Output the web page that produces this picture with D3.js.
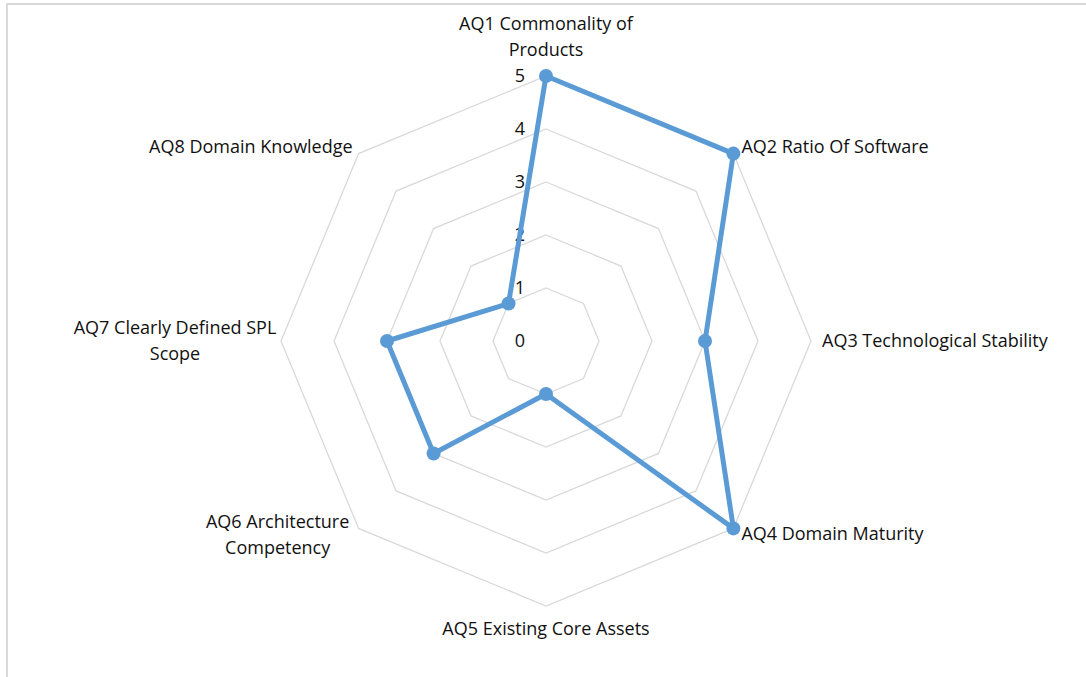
<!DOCTYPE html>
<html>
<head>
<meta charset="utf-8">
<script src="https://cdn.jsdelivr.net/npm/d3@7"></script>
<style>
  body { margin: 0; background: #fff; }
  svg { display: block; }
</style>
</head>
<body>
<div id="radar"></div>
<script>
// Categories (wrapped as in the original) and scores
const categories = [
    ["AQ1 Commonality of", "Products"],
    ["AQ2 Ratio Of Software"],
    ["AQ3 Technological Stability"],
    ["AQ4 Domain Maturity"],
    ["AQ5 Existing Core Assets"],
    ["AQ6 Architecture", "Competency"],
    ["AQ7 Clearly Defined SPL", "Scope"],
    ["AQ8 Domain Knowledge"]
];
const scores = [5, 5, 3, 5, 1, 3, 3, 1];
const ticks = [0, 1, 2, 3, 4, 5];

const width = 1086, height = 677;
const cx = 546, cy = 341;
const radius = 265;
const fontSize = "18px";

const svg = d3.select("#radar")
    .append("svg")
    .attr("width", width)
    .attr("height", height)
    .style("font-family", "'Open Sans', sans-serif");

// chart border (only top/left visible in the frame)
svg.append("rect")
    .attr("x", 7)
    .attr("y", 4)
    .attr("width", width + 20)
    .attr("height", height + 20)
    .attr("fill", "none")
    .attr("stroke", "#d9d9d9")
    .attr("stroke-width", 2);

const g = svg.append("g")
    .attr("transform", `translate(${cx},${cy})`);

const rScale = d3.scaleLinear()
    .domain([0, 5])
    .range([0, radius]);

const angle = i => (i / categories.length) * 2 * Math.PI;
const point = (i, v) => [Math.sin(angle(i)) * rScale(v), -Math.cos(angle(i)) * rScale(v)];

// octagon grid
g.selectAll(".grid")
    .data(ticks.filter(t => t > 0))
    .enter().append("polygon")
    .attr("class", "grid")
    .attr("points", t => categories.map((c, i) => point(i, t).join(",")).join(" "))
    .attr("fill", "none")
    .attr("stroke", "#d9d9d9")
    .attr("stroke-width", 1.3);

// value labels along the first axis
g.selectAll(".tick")
    .data(ticks)
    .enter().append("text")
    .attr("class", "tick")
    .attr("x", -21)
    .attr("y", t => -rScale(t))
    .attr("dy", "0.35em")
    .attr("text-anchor", "end")
    .style("font-size", fontSize)
    .style("fill", "#111")
    .text(d => d);

// data line
const line = d3.line()
    .x(d => d[0])
    .y(d => d[1])
    .curve(d3.curveLinearClosed);

g.append("path")
    .datum(scores.map((v, i) => point(i, v)))
    .attr("d", line)
    .attr("fill", "none")
    .attr("stroke", "#5b9bd5")
    .attr("stroke-width", 5)
    .attr("stroke-linejoin", "round");

g.selectAll(".dot")
    .data(scores)
    .enter().append("circle")
    .attr("class", "dot")
    .attr("cx", (v, i) => point(i, v)[0])
    .attr("cy", (v, i) => point(i, v)[1])
    .attr("r", 7)
    .attr("fill", "#5b9bd5");

// category label offsets from the outer vertex
const labelPos = [
    {dx: 0, dy: -304, anchor: "middle"},
    {dx: 8, dy: -7, anchor: "start"},
    {dx: 276, dy: 0, anchor: "start"},
    {dx: 8, dy: 5, anchor: "start"},
    {dx: 0, dy: 288, anchor: "middle"},
    {dx: -81, dy: 6, anchor: "middle"},
    {dx: -106, dy: 0, anchor: "middle"},
    {dx: -6, dy: -7, anchor: "end"}
];
const lineH = 26;

categories.forEach((lines, i) => {
    const p = labelPos[i];
    const edge = point(i, 5);
    const x = (i === 0 || i === 4 || i === 2) ? p.dx : edge[0] + p.dx;
    const yc = (i === 0 || i === 4) ? p.dy : edge[1] + p.dy;
    const y0 = yc - (lines.length - 1) * lineH / 2;
    const t = g.append("text")
        .attr("text-anchor", p.anchor)
        .style("font-size", fontSize)
        .style("fill", "#111");
    lines.forEach((s, k) => {
        t.append("tspan")
            .attr("x", x)
            .attr("y", y0 + k * lineH)
            .attr("dy", "0.35em")
            .text(s);
    });
});
</script>
</body>
</html>
